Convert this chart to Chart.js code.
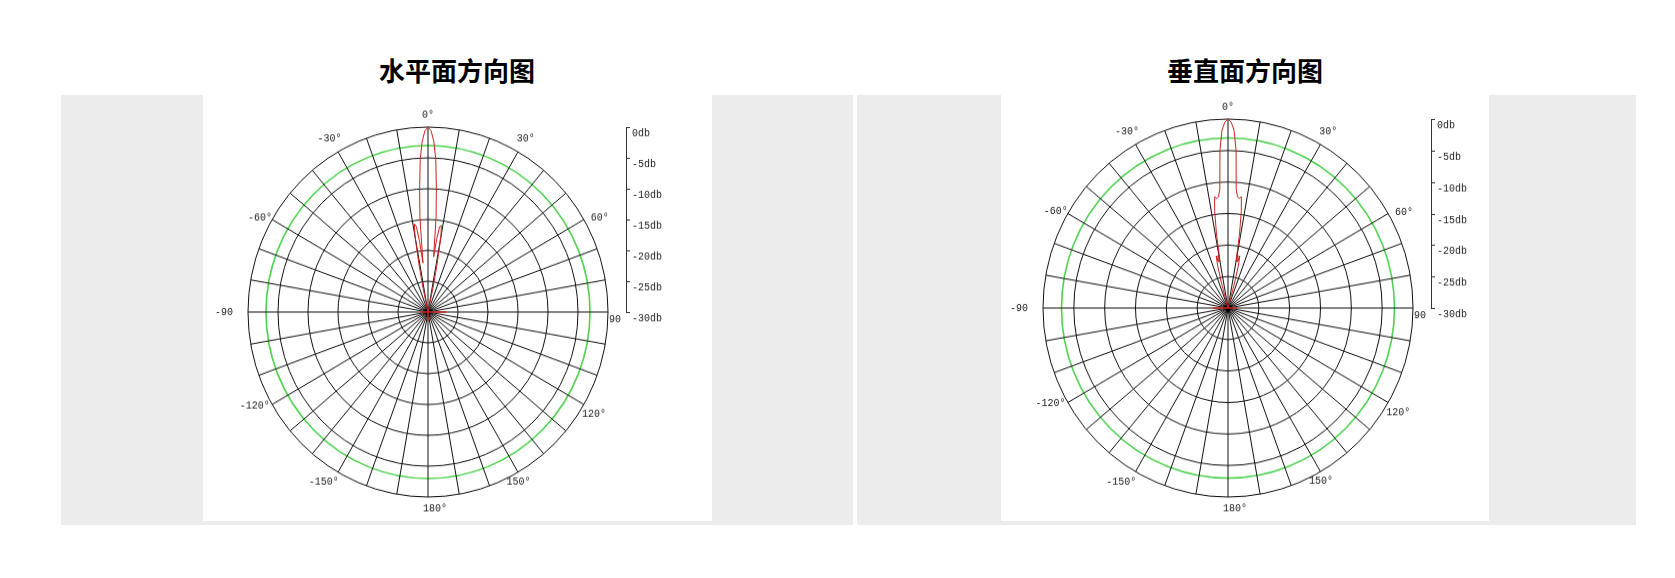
<!DOCTYPE html>
<html lang="zh-CN">
<head>
<meta charset="utf-8">
<script src="https://cdn.jsdelivr.net/npm/chart.js@4.4.0/dist/chart.umd.min.js"></script>
<style>
  html, body { margin: 0; padding: 0; background: #fff; }
  body { width: 1675px; height: 578px; position: relative; overflow: hidden; font-family: "Noto Sans CJK SC", sans-serif; }
  .title { position: absolute; top: 52px; font-size: 26px; font-weight: bold; line-height: 36px; transform: translateX(-50%); white-space: nowrap; color: #000; }
  .panel { position: absolute; background: #ececec; }
  .pic { position: absolute; background: #fff; }
  .holder { position: absolute; }
  .holder canvas { transform-origin: 50% 50%; }
</style>
</head>
<body>
<div class="title" style="left:457px">水平面方向图</div>
<div class="title" style="left:1245px">垂直面方向图</div>

<div class="panel" style="left:61px;top:95px;width:792px;height:430px"></div>
<div class="pic" style="left:203px;top:95px;width:509px;height:426px"></div>
<div class="panel" style="left:857px;top:95px;width:779px;height:430px"></div>
<div class="pic" style="left:1001px;top:95px;width:488px;height:426px"></div>

<div class="holder" id="hBox"><canvas id="hChart"></canvas></div>
<div class="holder" id="vBox"><canvas id="vChart"></canvas></div>

<script>
// rings of the radial scale (dB), -3 is the green one
const ringLevels = [-30, -25, -20, -15, -10, -5, -3, 0];
const dbTicks = [0, -5, -10, -15, -20, -25, -30];
const angleMarks = [0, 30, 60, 90, 120, 150, 180, -150, -120, -90, -60, -30];

// 水平面 pattern: angle (deg) -> level (dB)
const hAngles = [-13, -12, -11, -10, -9, -8, -7, -6, -5, -4, -3, -2, -1, 0,
                 1, 2, 3, 4, 5, 6, 7, 8, 9, 10, 11, 12, 13,
                 89, 90, 91, 179, 180, 181, 269, 270, 271];
const hDb = [-30, -26, -22, -17.5, -15.5, -16, -18.5, -22, -14.5, -10, -5.2, -2.3, -0.6, 0,
             -0.6, -2.3, -5.2, -10, -14.5, -21, -18, -16, -15.8, -17.5, -22, -26, -30,
             -30, -27, -30, -30, -28.5, -30, -30, -28.7, -30];

// 垂直面 pattern
const vAngles = [-16, -15, -14, -13, -12, -11, -10, -9, -8, -7, -6, -5, -4, -3, -2, -1, 0,
                 1, 2, 3, 4, 5, 6, 7, 8, 9, 10, 11, 12, 13, 14, 15, 16,
                 89, 90, 91, 269, 270, 271];
const vDb = [-30, -26, -23, -21.5, -22.5, -21.5, -22.5, -18, -14.5, -12.2, -12.5, -12.3, -11, -5, -1.8, -0.5, 0,
             -0.5, -1.8, -5, -11, -12.3, -12.5, -12.2, -14.5, -18, -22.5, -21.5, -22.5, -21.5, -23, -26, -30,
             -30, -28.5, -30, -30, -27.5, -30];

const black = '#111';
const green = '#4fd24f';
const red = '#cc2222';
const labelFont = '10px "Liberation Mono", monospace';

// small hand offsets so the angle labels sit where the original puts them
const labelNudge = {
  '-30': [0, 2], '30': [0, 1], '-60': [5, 8], '60': [1, 7],
  '-120': [2, -10], '120': [-7, 0], '-150': [-5, -6], '150': [-8, -5],
  '90': [0, 7], '180': [7, 0]
};

const labels = [];
for (let i = 0; i < 360; i++) labels.push(i);

function toSeries(angles, db) {
  const out = new Array(360).fill(null);
  angles.forEach((a, i) => { out[(a + 360) % 360] = db[i]; });
  return out;
}

function angleText(a) {
  if (a === 90 || a === -90) return String(a);
  return a + '°';
}

const decorPlugin = {
  id: 'decor',
  afterDraw(chart) {
    const ctx = chart.ctx;
    const s = chart.scales.r;
    const R = s.drawingArea;
    ctx.save();
    ctx.font = labelFont;
    ctx.fillStyle = '#1a1a1a';
    ctx.textBaseline = 'middle';
    ctx.textAlign = 'center';
    // angle labels
    angleMarks.forEach(a => {
      const txt = angleText(a);
      const w = ctx.measureText(txt).width;
      const th = a * Math.PI / 180;
      const ext = Math.abs(Math.sin(th)) * w / 2 + Math.abs(Math.cos(th)) * 4.5;
      let dist = R + 7 + ext;
      if (a === -90) dist += 8;
      if (a === 90) dist -= 6;
      const p = s.getPointPosition((a + 360) % 360, dist);
      const n = labelNudge[String(a)] || [0, 0];
      ctx.fillText(txt, p.x + n[0], p.y + n[1]);
    });
    // dB scale on the right
    const x = s.xCenter + R + 18;
    const yTop = s.yCenter - s.getDistanceFromCenterForValue(0);
    ctx.strokeStyle = '#333';
    ctx.lineWidth = 1;
    ctx.beginPath();
    ctx.moveTo(x + 0.5, yTop);
    ctx.lineTo(x + 0.5, s.yCenter);
    ctx.stroke();
    ctx.textAlign = 'left';
    dbTicks.forEach(v => {
      const y = Math.round(s.yCenter - s.getDistanceFromCenterForValue(v)) + 0.5;
      ctx.beginPath();
      ctx.moveTo(x, y);
      ctx.lineTo(x + 4, y);
      ctx.stroke();
      ctx.fillText(v + 'db', x + 6, y + 6);
    });
    ctx.restore();
  }
};

function makeChart(id, boxId, cx, cy, R, stretch, angles, db) {
  const padX = 110, padY = 45;
  const w = 2 * (R + padX), h = 2 * (R + padY);
  const box = document.getElementById(boxId);
  box.style.left = (cx - w / 2) + 'px';
  box.style.top = (cy - h / 2) + 'px';
  const canvas = document.getElementById(id);
  canvas.width = w;
  canvas.height = h;
  canvas.style.width = w + 'px';
  canvas.style.height = h + 'px';
  canvas.style.transform = 'scaleY(' + stretch + ')';

  const marker = new Array(360).fill(null);
  marker[180] = -30;

  return new Chart(canvas.getContext('2d'), {
    type: 'radar',
    data: {
      labels: labels,
      datasets: [
        {
          data: toSeries(angles, db),
          borderColor: red,
          borderWidth: 1,
          backgroundColor: 'rgba(0,0,0,0)',
          fill: false,
          pointRadius: 0,
          spanGaps: true,
          tension: 0
        },
        {
          data: marker,
          showLine: false,
          borderWidth: 0,
          pointStyle: 'triangle',
          rotation: 180,
          pointRadius: 5,
          pointBackgroundColor: '#000',
          pointBorderColor: '#000'
        }
      ]
    },
    options: {
      responsive: false,
      animation: false,
      layout: { padding: { left: padX, right: padX, top: padY, bottom: padY } },
      plugins: { legend: { display: false }, tooltip: { enabled: false } },
      scales: {
        r: {
          min: -30,
          max: 0,
          startAngle: 0,
          ticks: { display: false, stepSize: 5 },
          afterBuildTicks: scale => { scale.ticks = ringLevels.map(v => ({ value: v })); },
          grid: {
            circular: true,
            color: c => (c.tick && c.tick.value === -3) ? green : black,
            lineWidth: c => (c.tick && c.tick.value === -3) ? 1.6 : 1
          },
          angleLines: {
            color: c => c.index % 10 === 0 ? black : 'rgba(0,0,0,0)',
            lineWidth: c => c.index % 10 === 0 ? 1 : 0
          },
          pointLabels: { display: false }
        }
      }
    },
    plugins: [decorPlugin]
  });
}

makeChart('hChart', 'hBox', 428, 312, 180, 185 / 180, hAngles, hDb);
makeChart('vChart', 'vBox', 1228, 308, 185, 189 / 185, vAngles, vDb);
</script>
</body>
</html>
